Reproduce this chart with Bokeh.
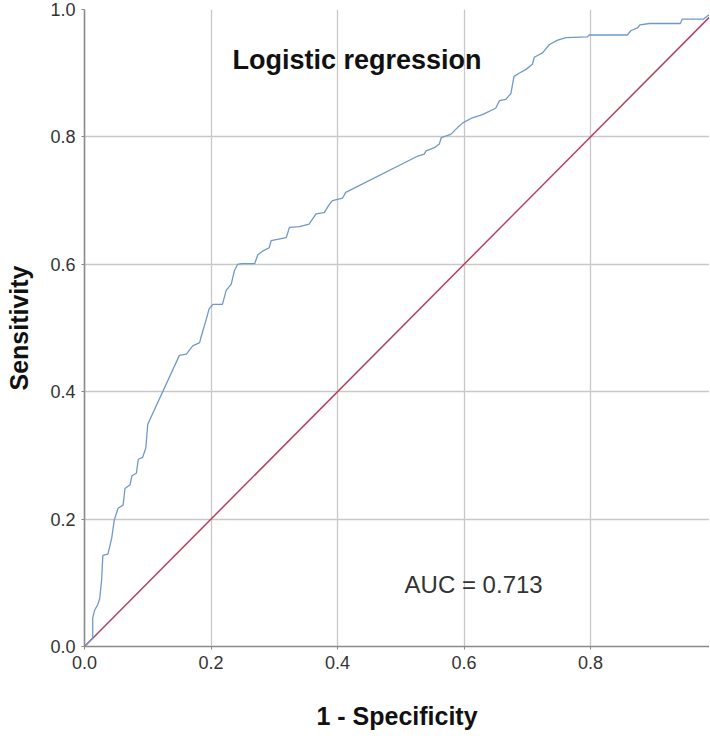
from bokeh.plotting import figure
from bokeh.models import FixedTicker, Range1d
from bokeh.core.properties import value
from bokeh.embed import file_html
from bokeh.resources import INLINE

# ROC curve (1 - specificity, sensitivity)
fpr = [0.000, 0.013, 0.013, 0.016, 0.021, 0.024, 0.027, 0.029, 0.037, 0.043,
       0.047, 0.053, 0.061, 0.064, 0.072, 0.075, 0.082, 0.085, 0.092, 0.097,
       0.100, 0.150, 0.161, 0.171, 0.182, 0.184, 0.192, 0.197, 0.203, 0.218,
       0.224, 0.232, 0.237, 0.242, 0.248, 0.269, 0.274, 0.282, 0.292, 0.295,
       0.305, 0.319, 0.324, 0.340, 0.355, 0.366, 0.379, 0.387, 0.392, 0.408,
       0.413, 0.527, 0.537, 0.540, 0.553, 0.561, 0.564, 0.579, 0.590, 0.598,
       0.613, 0.629, 0.650, 0.656, 0.666, 0.674, 0.679, 0.687, 0.698, 0.708,
       0.711, 0.724, 0.735, 0.748, 0.761, 0.795, 0.798, 0.858, 0.864, 0.874,
       0.878, 0.893, 0.942, 0.945, 0.979, 0.985, 1.000]
tpr = [0.000, 0.014, 0.045, 0.057, 0.066, 0.075, 0.104, 0.143, 0.145, 0.170,
       0.198, 0.217, 0.222, 0.248, 0.254, 0.268, 0.272, 0.294, 0.297, 0.312,
       0.349, 0.457, 0.459, 0.472, 0.477, 0.485, 0.512, 0.530, 0.537, 0.537,
       0.559, 0.569, 0.590, 0.600, 0.601, 0.601, 0.615, 0.621, 0.626, 0.637,
       0.639, 0.642, 0.658, 0.659, 0.663, 0.679, 0.681, 0.694, 0.700, 0.704,
       0.713, 0.770, 0.773, 0.778, 0.783, 0.789, 0.799, 0.804, 0.815, 0.822,
       0.830, 0.835, 0.845, 0.857, 0.859, 0.868, 0.895, 0.900, 0.906, 0.914,
       0.925, 0.932, 0.945, 0.952, 0.956, 0.957, 0.960, 0.960, 0.967, 0.971,
       0.976, 0.978, 0.978, 0.985, 0.985, 0.990, 1.000]

# Reference (chance) line
ref_x = [0.0, 1.0]
ref_y = [0.0, 1.0]

ticks = [0.0, 0.2, 0.4, 0.6, 0.8, 1.0]
tick_labels = {0.0: "0.0", 0.2: "0.2", 0.4: "0.4", 0.6: "0.6", 0.8: "0.8", 1.0: "1.0"}

chart_title = "Logistic regression"
title_pos = (0.234, 0.920)
auc_label = "AUC = 0.713"
auc_pos = (0.506, 0.098)
x_title = "1 - Specificity"
y_title = "Sensitivity"

FONT = "Liberation Sans"

p = figure(width=709, height=734,
           x_range=Range1d(0, 0.988), y_range=Range1d(0, 1.0),
           output_backend="svg", toolbar_location=None,
           min_border_left=84, min_border_right=0,
           min_border_top=9, min_border_bottom=88)
p.outline_line_color = None
p.background_fill_color = "white"
p.border_fill_color = "white"

for ax in (p.xaxis, p.yaxis):
    ax.ticker = FixedTicker(ticks=ticks)
    ax.major_label_overrides = tick_labels
    ax.minor_tick_line_color = None
    ax.major_tick_in = 0
    ax.major_tick_out = 3
    ax.major_tick_line_color = "#8a8a8a"
    ax.axis_line_color = "#8a8a8a"
    ax.axis_line_width = 1.6
    ax.major_label_text_font = FONT
    ax.major_label_text_font_size = "18px"
    ax.major_label_text_color = "#333333"
    ax.major_label_standoff = 6
    ax.axis_label_text_font = FONT
    ax.axis_label_text_font_style = "bold"
    ax.axis_label_text_font_size = "25px"
    ax.axis_label_text_color = "#111111"

p.xaxis.axis_label = x_title
p.yaxis.axis_label = y_title
p.xaxis.axis_label_standoff = 30
p.yaxis.axis_label_standoff = 14

for g in (p.xgrid, p.ygrid):
    g.ticker = FixedTicker(ticks=ticks)
    g.grid_line_color = "#c8c8c8"
    g.grid_line_width = 1.3

p.line(ref_x, ref_y, line_color="#b5405e", line_width=1.5)
p.line(fpr, tpr, line_color="#7099c8", line_width=1.3)

p.text(x=[title_pos[0]], y=[title_pos[1]], text=[chart_title],
       text_font=value(FONT), text_font_style="bold", text_font_size="27px",
       text_color="#111111", text_baseline="alphabetic", text_align="left")
p.text(x=[auc_pos[0]], y=[auc_pos[1]], text=[auc_label],
       text_font=value(FONT), text_font_size="24px",
       text_color="#333333", text_baseline="alphabetic", text_align="left")

open("out.html", "w").write(file_html(p, INLINE))
